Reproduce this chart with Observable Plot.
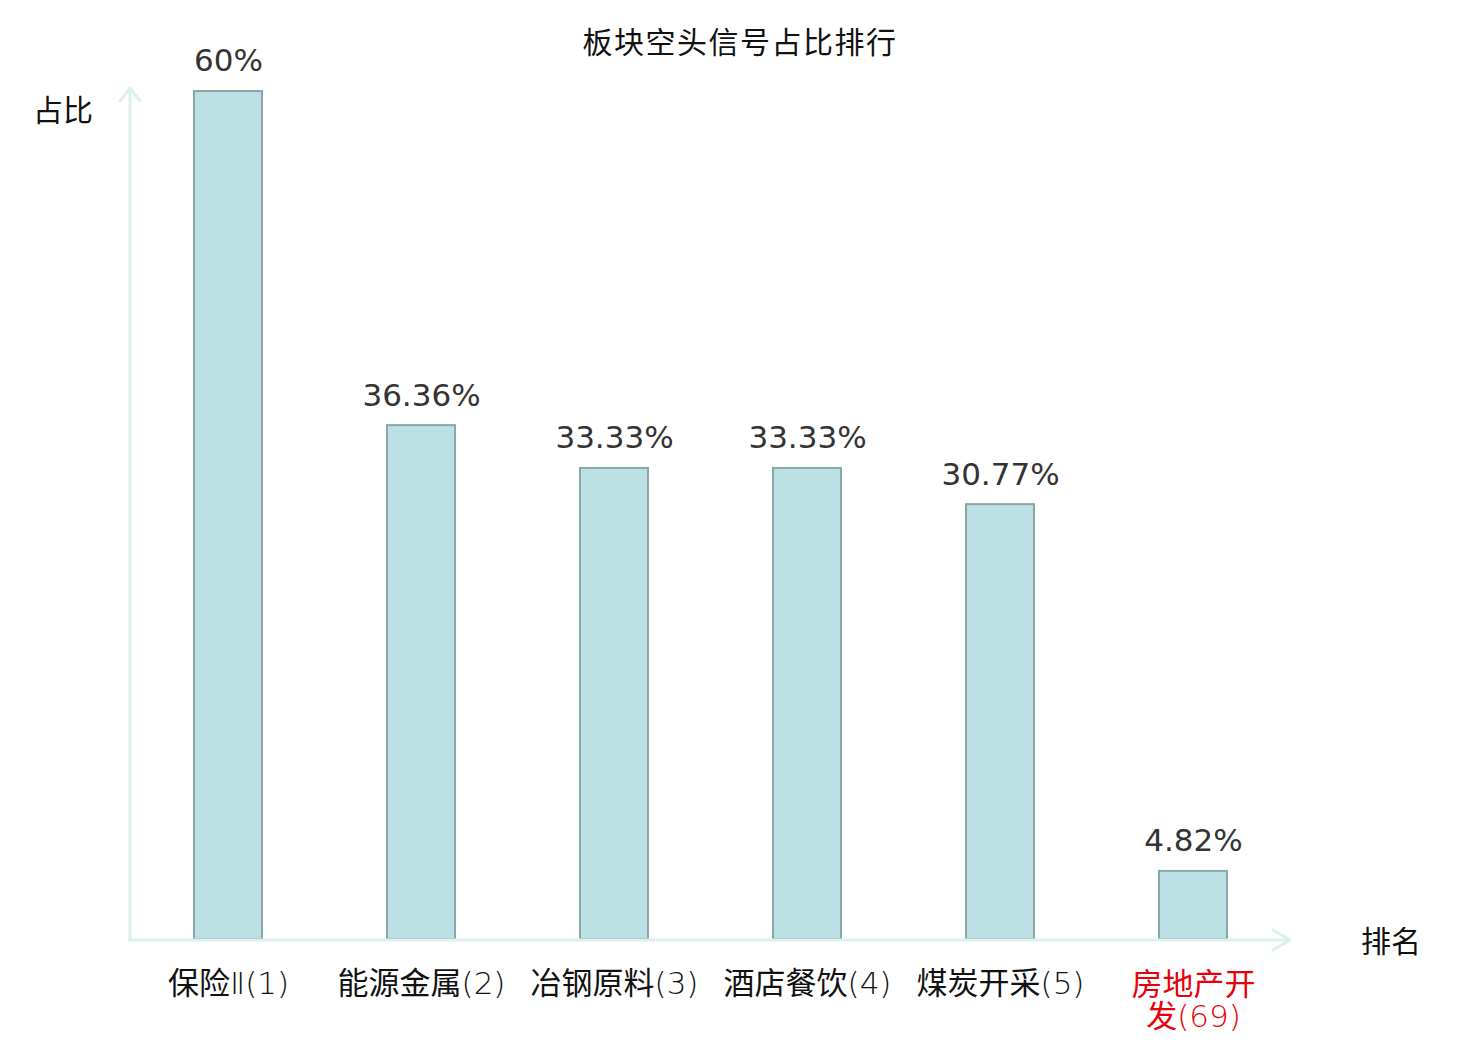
<!DOCTYPE html>
<html>
<head>
<meta charset="utf-8">
<script src="https://cdn.jsdelivr.net/npm/d3@7"></script>
<script src="https://cdn.jsdelivr.net/npm/@observablehq/plot@0.6"></script>
<style>
  html, body { margin: 0; padding: 0; background: #fff; }
  #wrap { position: relative; width: 1480px; height: 1040px; }
  #title { position: absolute; top: 20px; left: 0; width: 1480px; text-align: center;
    font-family: "Noto Sans CJK SC", sans-serif; font-size: 30px; color: #111; line-height: 40px; letter-spacing: 1.5px; }
  #chart { position: absolute; top: 0; left: 0; }
</style>
</head>
<body>
<div id="wrap">
  <div id="chart"></div>
  <div id="title">板块空头信号占比排行</div>
</div>
<script>
const categories = ["保险Ⅱ(1)", "能源金属(2)", "冶钢原料(3)", "酒店餐饮(4)", "煤炭开采(5)", "房地产开\n发(69)"];
const values = [60, 36.36, 33.33, 33.33, 30.77, 4.82];
const highlighted = [false, false, false, false, false, true];
const yAxisLabel = "占比";
const xAxisLabel = "排名";
const yMax = 60;

const data = categories.map((c, i) => ({ cat: c, value: values[i], hi: highlighted[i] }));

const axisColor = "#dcf1ee";
const labelFont = "'DejaVu Sans', 'Noto Sans CJK SC', sans-serif";

function axesMark(index, scales, values_, dimensions) {
  const ns = "http://www.w3.org/2000/svg";
  const g = document.createElementNS(ns, "g");
  const { width, marginLeft, marginRight } = dimensions;
  const x0 = marginLeft;
  const x1 = width - marginRight;
  const y0 = scales.y(0);
  const yTop = scales.y(yMax) - 3;
  const mk = (tag, attrs) => { const e = document.createElementNS(ns, tag); for (const k in attrs) e.setAttribute(k, attrs[k]); g.appendChild(e); return e; };
  const common = { stroke: axisColor, "stroke-width": 3, fill: "none", "stroke-linecap": "round", "stroke-linejoin": "round" };
  mk("path", { d: `M${x0},${y0 + 1}V${yTop}M${x0 - 10},${yTop + 13}L${x0},${yTop}L${x0 + 10},${yTop + 13}`, ...common });
  mk("path", { d: `M${x0 - 1},${y0 + 1}H${x1}M${x1 - 17},${y0 - 9}L${x1},${y0 + 1}L${x1 - 17},${y0 + 11}`, ...common });
  const t1 = mk("text", { x: 63, y: yTop + 25, "text-anchor": "middle", "dominant-baseline": "middle", fill: "#111", "font-size": 30, "font-family": "'Noto Sans CJK SC', sans-serif" });
  t1.textContent = yAxisLabel;
  const t2 = mk("text", { x: 1391, y: y0 + 5, "text-anchor": "middle", "dominant-baseline": "middle", fill: "#111", "font-size": 30, "font-family": "'Noto Sans CJK SC', sans-serif" });
  t2.textContent = xAxisLabel;
  return g;
}

const chart = Plot.plot({
  width: 1480,
  height: 1040,
  marginLeft: 130,
  marginRight: 190,
  marginTop: 91,
  marginBottom: 101,
  style: { background: "transparent", overflow: "visible" },
  x: { domain: categories, paddingInner: 0.65, paddingOuter: 0.325, axis: null },
  y: { domain: [0, yMax], axis: null },
  marks: [
    Plot.barY(data, { x: "cat", y: "value", fill: "#bce0e3", stroke: "#8aa7a9", strokeWidth: 2 }),
    axesMark,
    Plot.text(data, { x: "cat", y: "value", text: d => `${d.value}%`, dy: -30, fill: "#333",
      fontSize: 31, fontFamily: "'DejaVu Sans', sans-serif" }),
    Plot.text(data.filter(d => !d.hi), { x: "cat", y: () => 0, text: "cat", dy: 45, fill: "#111",
      fontSize: 31, fontFamily: labelFont, lineAnchor: "middle", ariaDescription: "xlabel" }),
    Plot.text(data.filter(d => d.hi), { x: "cat", y: () => 0, text: "cat", dy: 61, fill: "#e8000b",
      fontSize: 31, fontFamily: labelFont, lineAnchor: "middle", lineHeight: 1.04, ariaDescription: "xlabel" })
  ]
});

// Render the Latin part of the category labels in a thin weight, CJK in regular weight
const ns = "http://www.w3.org/2000/svg";
function splitRuns(el) {
  const s = el.textContent;
  while (el.firstChild) el.removeChild(el.firstChild);
  for (const part of s.split(/([\u3400-\u9fff]+)/)) {
    if (!part) continue;
    const t = document.createElementNS(ns, "tspan");
    t.textContent = part;
    if (!/[\u3400-\u9fff]/.test(part)) t.setAttribute("font-weight", "200");
    el.appendChild(t);
  }
}
chart.querySelectorAll('g[aria-description="xlabel"] text').forEach(text => {
  const lines = Array.from(text.querySelectorAll("tspan"));
  if (lines.length) lines.forEach(splitRuns);
  else splitRuns(text);
});

document.getElementById("chart").appendChild(chart);
</script>
</body>
</html>
